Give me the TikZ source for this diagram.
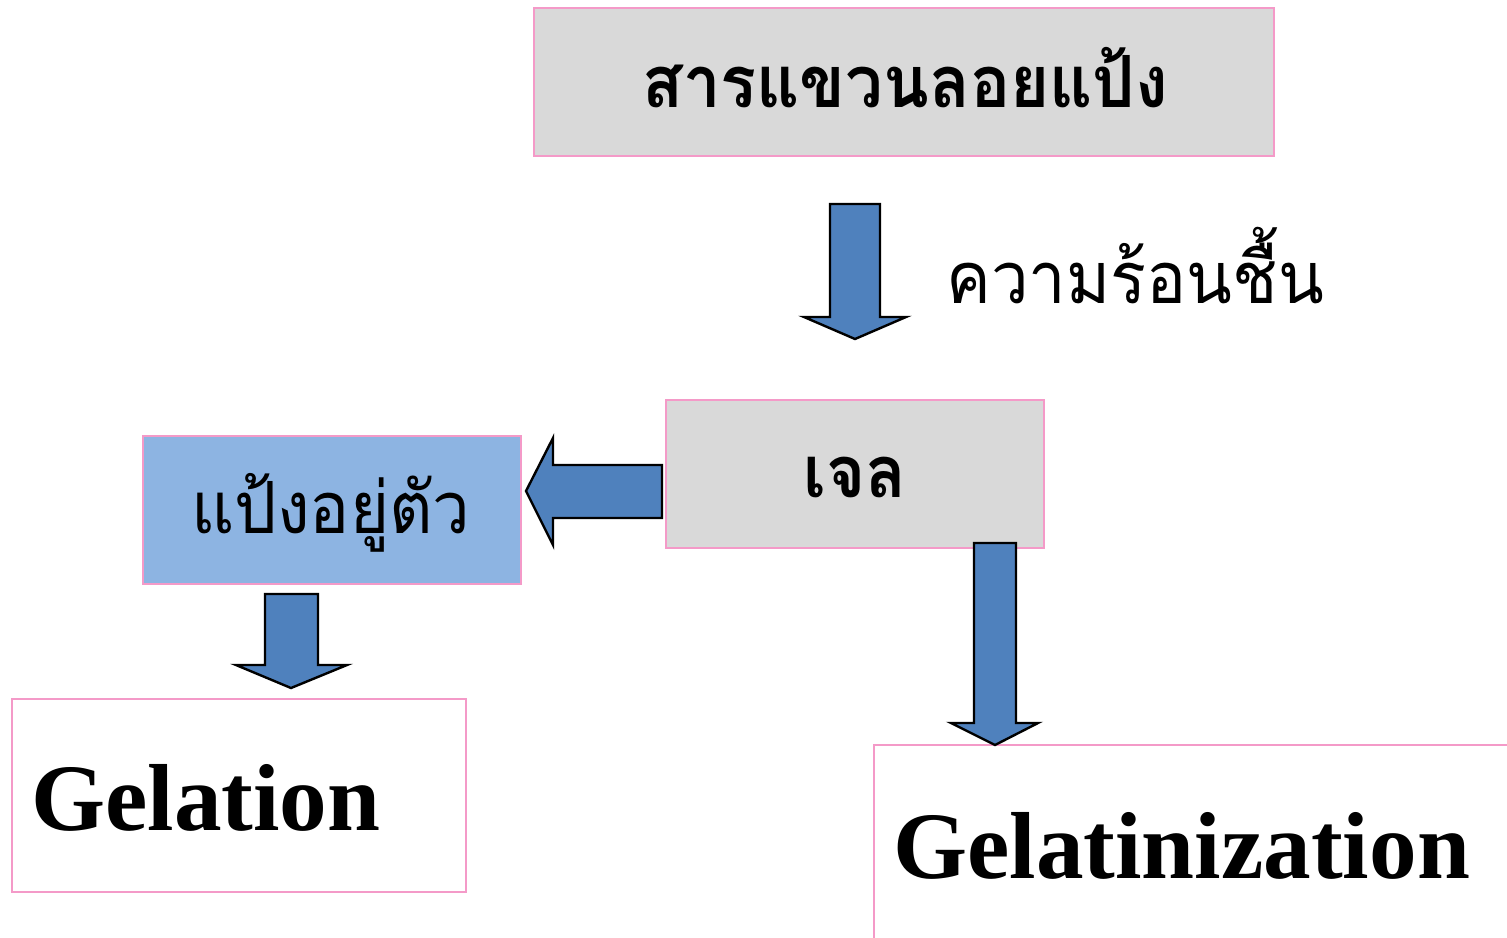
\documentclass[tikz,border=0pt]{standalone}
\usepackage{fontspec}
\setmainfont{Liberation Serif}
\newfontfamily\thaifont[Script=Thai]{Loma}
\definecolor{boxgray}{HTML}{D9D9D9}
\definecolor{boxpink}{HTML}{F49AC8}
\definecolor{boxblue}{HTML}{8DB4E2}
\definecolor{arrowblue}{HTML}{4F81BD}
\newcommand{\thsq}[1]{\scalebox{0.93}[1]{#1}}
\begin{document}
\begin{tikzpicture}[x=0.5pt,y=-0.5pt,
  box/.style={draw=boxpink, line width=1pt},
  blockarrow/.style={fill=arrowblue, draw=black, line width=1.2pt, line join=miter},
  thaibold/.style={font=\thaifont\bfseries\fontsize{36}{44}\selectfont, inner sep=0pt},
  thaireg/.style={font=\thaifont\fontsize{36}{44}\selectfont, inner sep=0pt},
  latin/.style={font=\bfseries\fontsize{47.6}{56}\selectfont, inner sep=0pt}]
\useasboundingbox (0,0) rectangle (1507,937);
% boxes
\draw[box, fill=boxgray] (534,8) rectangle (1274,156);
\node[thaibold, anchor=base] (top) at (905,107) {\thsq{สารแขวนลอยแป้ง}};
\draw[box, fill=boxgray] (666,400) rectangle (1044,548);
\node[thaibold, anchor=base] (gel) at (855,497) {\thsq{เจล}};
\draw[box, fill=boxblue] (143,436) rectangle (521,584);
\node[thaireg, anchor=base] (stable) at (331,533) {\thsq{แป้งอยู่ตัว}};
\draw[box, fill=white] (12,699) rectangle (466,892);
\node[latin, anchor=base west] (gelation) at (31,830) {Gelation};
\draw[box, fill=white] (874,960) -- (874,745) -- (1530,745);
\node[latin, anchor=base west] (gelatin) at (893,878) {Gelatinization};
% label
\node[thaireg, anchor=base west] (heat) at (946,303) {\thsq{ความร้อนชื้น}};
% arrows
\draw[blockarrow] (830,204) -- (880,204) -- (880,317) -- (906,317) -- (855,339) -- (804,317) -- (830,317) -- cycle;
\draw[blockarrow] (662,465) -- (662,518) -- (553,518) -- (553,545) -- (526,491) -- (553,438) -- (553,465) -- cycle;
\draw[blockarrow] (265,594) -- (318,594) -- (318,665) -- (347,665) -- (291,688) -- (236,665) -- (265,665) -- cycle;
\draw[blockarrow] (974,543) -- (1016,543) -- (1016,723) -- (1038,723) -- (995,745) -- (951,723) -- (974,723) -- cycle;
\end{tikzpicture}
\end{document}
